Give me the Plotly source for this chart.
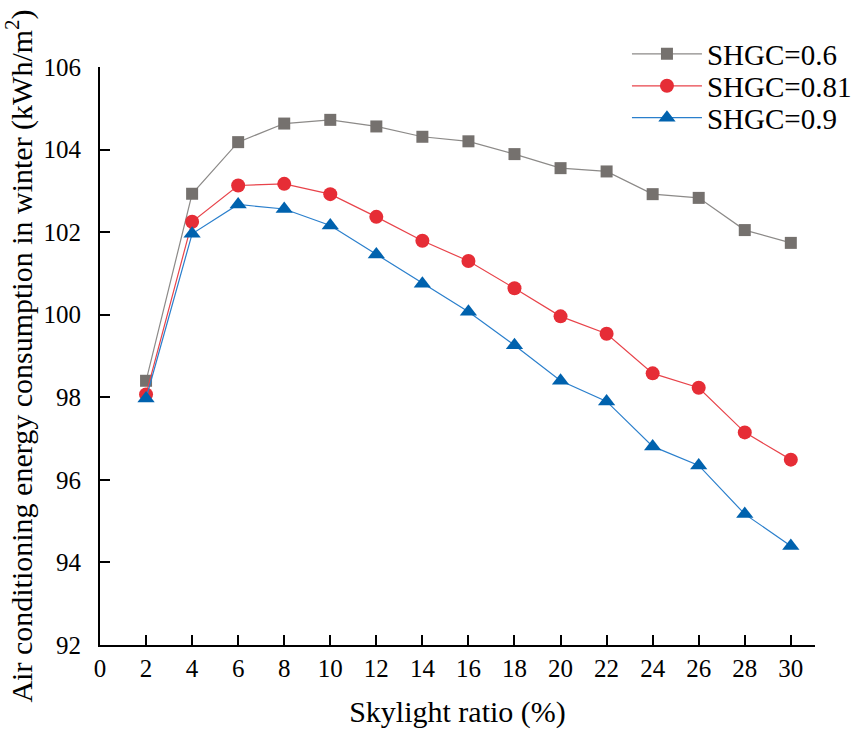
import plotly.graph_objects as go

# Skylight ratio (%) and winter air-conditioning energy use (kWh/m2)
skylight_ratio = [2, 4, 6, 8, 10, 12, 14, 16, 18, 20, 22, 24, 26, 28, 30]
shgc_06 = [98.40, 102.93, 104.18, 104.63, 104.72, 104.56, 104.31, 104.20,
           103.89, 103.55, 103.47, 102.92, 102.83, 102.05, 101.74]
shgc_081 = [98.07, 102.25, 103.13, 103.17, 102.92, 102.37, 101.79, 101.30,
            100.64, 99.96, 99.54, 98.58, 98.23, 97.15, 96.49]
shgc_09 = [97.97, 101.96, 102.67, 102.56, 102.16, 101.46, 100.75, 100.07,
           99.26, 98.40, 97.90, 96.81, 96.35, 95.17, 94.40]

x_ticks = list(range(0, 31, 2))
y_ticks = list(range(92, 107, 2))

FONT = "Liberation Serif"

# name, values, line colour, marker colour, symbol, marker size, legend id, legend row y
series = [
    ("SHGC=0.6", shgc_06, "#8c8a88", "#75716e", "square", 12, "legend", 1.0225),
    ("SHGC=0.81", shgc_081, "#e8434a", "#e62d36", "circle", 14, "legend2", 0.9672),
    ("SHGC=0.9", shgc_09, "#2a7fcc", "#0062ae", "triangle-up", 15, "legend3", 0.912),
]

fig = go.Figure()
legend_layout = {}
for name, vals, lcolor, mcolor, symbol, size, leg, ly in series:
    fig.add_trace(go.Scatter(
        x=skylight_ratio, y=vals, name=name, mode="lines+markers",
        line=dict(color=lcolor, width=1.2),
        marker=dict(color=mcolor, symbol=symbol, size=size, line=dict(width=0)),
        legend=leg,
    ))
    legend_layout[leg] = dict(
        x=0.737, y=ly, xanchor="left", yanchor="middle",
        font=dict(family=FONT, size=29, color="black"),
        itemwidth=70, bgcolor="rgba(0,0,0,0)", borderwidth=0,
    )

axis_common = dict(
    showline=True, linecolor="black", linewidth=2,
    ticks="inside", ticklen=10, tickwidth=2, tickcolor="black",
    showgrid=False, zeroline=False,
    tickfont=dict(family=FONT, size=25, color="black"),
)

fig.update_layout(
    width=857, height=734,
    margin=dict(l=100, r=42, t=67, b=89, autoexpand=False),
    paper_bgcolor="white", plot_bgcolor="white",
    font=dict(family=FONT, color="black"),
    xaxis=dict(
        range=[0, 31.05], tickvals=x_ticks, ticklabelstandoff=0,
        title=dict(text="Skylight ratio (%)", font=dict(family=FONT, size=30), standoff=20),
        **axis_common,
    ),
    yaxis=dict(
        range=[92, 106], tickvals=y_ticks, ticklabelstandoff=12,
        title=dict(text="Air conditioning energy consumption in winter (kWh/m<sup>2</sup>)",
                   font=dict(family=FONT, size=30), standoff=9),
        **axis_common,
    ),
    showlegend=True,
    **legend_layout,
)

fig.write_html("out.html")
